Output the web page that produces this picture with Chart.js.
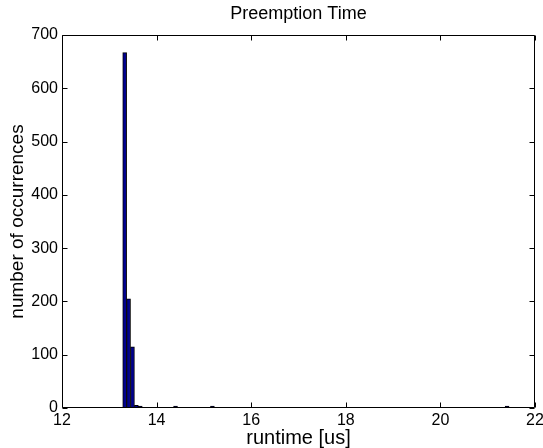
<!DOCTYPE html>
<html>
<head>
<meta charset="utf-8">
<script src="https://cdn.jsdelivr.net/npm/chart.js@4"></script>
<style>
  html, body { margin: 0; padding: 0; background: #fff; }
  #wrap { width: 543px; height: 448px; }
</style>
</head>
<body>
<div id="wrap"><canvas id="histChart"></canvas></div>
<script>
// histogram bins (bin centre in us) and their counts
const binCenters = [13.325, 13.4075, 13.49, 13.5725, 13.655, 14.40, 15.18, 21.41];
const counts = [667, 205, 115, 5, 2, 1, 1, 1];
const xTicks = [12, 14, 16, 18, 20, 22];
const yTicks = [0, 100, 200, 300, 400, 500, 600, 700];

const FONT = 'Liberation Sans, Arial, Helvetica, sans-serif';

// matlab style box with inward ticks on all four sides
const frameTicks = {
    id: 'frameTicks',
    afterDatasetsDraw(chart) {
        const { ctx, chartArea: a, scales: { x, y } } = chart;
        const L = Math.round(a.left) + 0.5, R = Math.round(a.right) - 0.5;
        const T = Math.round(a.top) + 0.5, B = Math.round(a.bottom) - 0.5;
        ctx.save();
        ctx.strokeStyle = '#000';
        ctx.lineWidth = 1;
        ctx.beginPath();
        ctx.rect(L, T, R - L, B - T);
        xTicks.forEach(v => {
            const px = Math.round(x.getPixelForValue(v)) + 0.5;
            ctx.moveTo(px, B); ctx.lineTo(px, B - 5);
            ctx.moveTo(px, T); ctx.lineTo(px, T + 5);
        });
        yTicks.forEach(v => {
            const py = Math.round(y.getPixelForValue(v)) + 0.5;
            ctx.moveTo(L, py); ctx.lineTo(L + 5, py);
            ctx.moveTo(R, py); ctx.lineTo(R - 5, py);
        });
        ctx.stroke();
        ctx.restore();
    }
};

const ctx = document.getElementById('histChart').getContext('2d');
new Chart(ctx, {
    type: 'bar',
    data: {
        datasets: [{
            data: binCenters.map((c, i) => ({ x: c, y: counts[i] })),
            backgroundColor: '#00008f',
            borderColor: '#000',
            borderWidth: 1,
            minBarLength: 2,
            barPercentage: 1,
            categoryPercentage: 1
        }]
    },
    options: {
        responsive: true,
        maintainAspectRatio: false,
        animation: false,
        layout: { padding: { left: 0, right: 0, top: 0, bottom: 0 } },
        plugins: {
            legend: { display: false },
            tooltip: { enabled: false },
            title: {
                display: true,
                fullSize: false,
                text: 'Preemption Time',
                color: '#000',
                font: { family: FONT, size: 18, weight: 'normal', lineHeight: 1.2 },
                padding: { top: 3, bottom: 10.4 }
            }
        },
        scales: {
            x: {
                type: 'linear',
                offset: false,
                min: 12,
                max: 22,
                afterBuildTicks: s => { s.ticks = xTicks.map(v => ({ value: v })); },
                afterFit: s => { s.height = 40; s.paddingRight = 8; s.paddingLeft = 0; },
                grid: { display: false, drawTicks: false },
                border: { display: false },
                ticks: { color: '#000', padding: 3, maxRotation: 0, font: { family: FONT, size: 16 } },
                title: {
                    display: true,
                    text: 'runtime [us]',
                    color: '#000',
                    font: { family: FONT, size: 20, lineHeight: 1 },
                    padding: { top: 0, bottom: 0 }
                }
            },
            y: {
                min: 0,
                max: 700,
                afterBuildTicks: s => { s.ticks = yTicks.map(v => ({ value: v })); },
                afterFit: s => { s.width = 62; },
                grid: { display: false, drawTicks: false },
                border: { display: false },
                ticks: { color: '#000', padding: 4, font: { family: FONT, size: 16 } },
                title: {
                    display: true,
                    text: 'number of occurrences',
                    color: '#000',
                    font: { family: FONT, size: 19, lineHeight: 1 },
                    padding: { top: 8.5, bottom: 0 }
                }
            }
        }
    },
    plugins: [frameTicks]
});
</script>
</body>
</html>
